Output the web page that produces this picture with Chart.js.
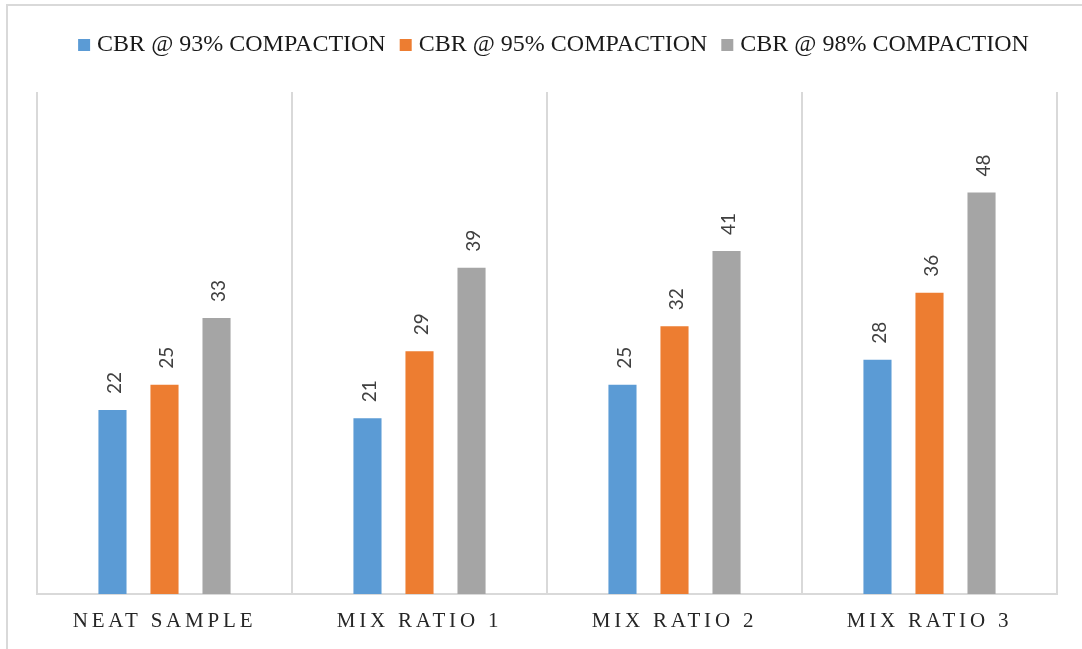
<!DOCTYPE html>
<html>
<head>
<meta charset="utf-8">
<title>CBR by compaction level</title>
<script src="https://cdn.jsdelivr.net/npm/chart.js@4.4.1/dist/chart.umd.min.js"></script>
<style>
  html, body { margin: 0; padding: 0; background: #ffffff; }
  #wrap { position: relative; width: 1082px; height: 649px; }
</style>
</head>
<body>
<div id="wrap"><canvas id="chart" width="1082" height="649"></canvas></div>
<script>
// Categories and CBR values (%) for each compaction level
const categories = ['NEAT SAMPLE', 'MIX RATIO 1', 'MIX RATIO 2', 'MIX RATIO 3'];
const seriesNames = ['CBR @ 93% COMPACTION', 'CBR @ 95% COMPACTION', 'CBR @ 98% COMPACTION'];
const cbr93 = [22, 21, 25, 28];
const cbr95 = [25, 29, 32, 36];
const cbr98 = [33, 39, 41, 48];
const seriesColors = ['#5b9bd5', '#ed7d31', '#a5a5a5'];

const SERIF = '"Liberation Serif", "Times New Roman", serif';
const SANS = 'Lato, "Liberation Sans", sans-serif';

// Category axis whose labels are drawn with wide letter spacing
class SpacedCategoryScale extends Chart.CategoryScale {
  drawLabels(area) {
    const ctx = this.ctx;
    ctx.save();
    ctx.letterSpacing = '3.8px';
    super.drawLabels(area);
    ctx.restore();
  }
}
SpacedCategoryScale.id = 'spacedCategory';
SpacedCategoryScale.defaults = Chart.CategoryScale.defaults;
Chart.register(SpacedCategoryScale);

// Light frame along the top and left edge of the figure
const framePlugin = {
  id: 'frame',
  beforeDraw(chart) {
    const ctx = chart.ctx;
    ctx.save();
    ctx.strokeStyle = '#d9d9d9';
    ctx.lineWidth = 2;
    ctx.beginPath();
    ctx.moveTo(7, chart.height + 5);
    ctx.lineTo(7, 5);
    ctx.lineTo(chart.width + 5, 5);
    ctx.stroke();
    ctx.restore();
  }
};

// Extra room below the legend row, and a small nudge of the legend itself
const legendGap = {
  id: 'legendGap',
  beforeInit(chart) {
    const legend = chart.legend;
    const fit = legend.fit;
    legend.fit = function () {
      fit.call(this);
      this.height += 21;
    };
    const draw = legend.draw;
    legend.draw = function () {
      const ctx = this.ctx;
      ctx.save();
      ctx.translate(9, -4);
      draw.call(this);
      ctx.restore();
    };
  }
};

// Vertical value labels above each bar
const valueLabels = {
  id: 'valueLabels',
  afterDatasetsDraw(chart) {
    const ctx = chart.ctx;
    ctx.save();
    ctx.font = '19px ' + SANS;
    ctx.fillStyle = '#404040';
    ctx.textAlign = 'left';
    ctx.textBaseline = 'middle';
    chart.data.datasets.forEach((ds, di) => {
      const meta = chart.getDatasetMeta(di);
      meta.data.forEach((bar, i) => {
        ctx.save();
        ctx.translate(bar.x + 2, bar.y - 16);
        ctx.rotate(-Math.PI / 2);
        ctx.fillText(String(ds.data[i]), 0, 0);
        ctx.restore();
      });
    });
    ctx.restore();
  }
};

const seriesData = [cbr93, cbr95, cbr98];

new Chart(document.getElementById('chart'), {
  type: 'bar',
  data: {
    labels: categories,
    datasets: seriesNames.map((name, i) => ({
      label: name,
      data: seriesData[i],
      backgroundColor: seriesColors[i],
      borderWidth: 0,
      categoryPercentage: 0.612,
      barPercentage: 0.54
    }))
  },
  options: {
    responsive: false,
    animation: false,
    devicePixelRatio: 1,
    layout: { padding: { left: 37, right: 25, top: 18, bottom: 0 } },
    plugins: {
      legend: {
        position: 'top',
        align: 'center',
        labels: {
          // small core square widened by a same-colour stroke to a 12px marker
          boxWidth: 2,
          boxHeight: 2,
          padding: 19,
          color: '#1a1a1a',
          font: { family: SERIF, size: 24 },
          generateLabels(chart) {
            const items = Chart.defaults.plugins.legend.labels.generateLabels(chart);
            items.forEach(it => {
              it.strokeStyle = it.fillStyle;
              it.lineWidth = 10;
              it.lineJoin = 'miter';
            });
            return items;
          }
        }
      },
      tooltip: { enabled: false }
    },
    scales: {
      x: {
        type: 'spacedCategory',
        offset: true,
        grid: {
          offset: true,
          display: true,
          color: '#d9d9d9',
          lineWidth: 2,
          drawTicks: false
        },
        border: { display: true, color: '#d9d9d9', width: 2 },
        ticks: {
          color: '#262626',
          padding: 17,
          font: { family: SERIF, size: 21, lineHeight: 1.0 }
        }
      },
      y: {
        display: false,
        min: 0,
        max: 60
      }
    }
  },
  plugins: [framePlugin, legendGap, valueLabels]
});
</script>
</body>
</html>
